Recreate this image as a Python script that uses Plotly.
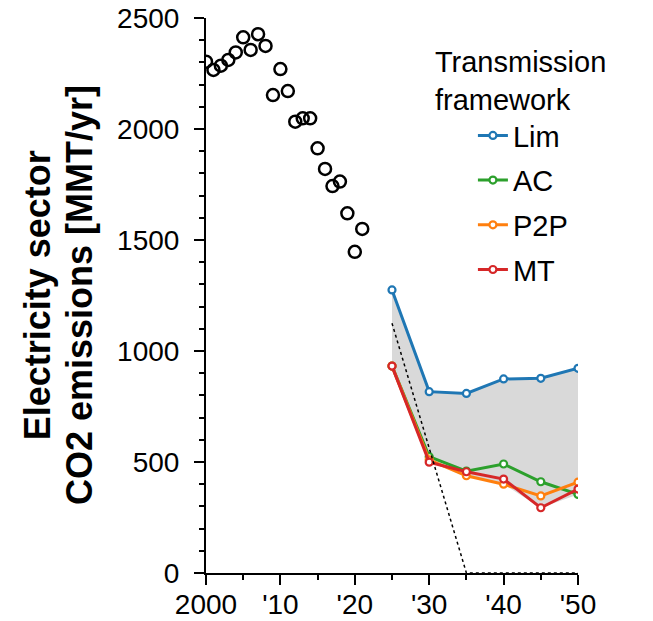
import plotly.graph_objects as go

# Historical emissions
hist_years = list(range(2000, 2022))
hist_values = [2303, 2266, 2285, 2311, 2345, 2413, 2356, 2427, 2374, 2153, 2270,
               2171, 2033, 2048, 2048, 1913, 1820, 1743, 1763, 1620, 1447, 1550]

# Scenario projections
proj_years = [2025, 2030, 2035, 2040, 2045, 2050]
lim_values = [1275, 817, 809, 874, 877, 922]
ac_values = [932, 524, 459, 491, 411, 354]
p2p_values = [932, 510, 438, 400, 347, 409]
mt_values = [932, 499, 456, 423, 294, 378]

# Target pathway (dotted)
target_years = [2025, 2035, 2050]
target_values = [1125, 0, 0]

series = [
    ("Lim", lim_values, "#1f77b4"),
    ("AC", ac_values, "#2ca02c"),
    ("P2P", p2p_values, "#ff7f0e"),
    ("MT", mt_values, "#d62728"),
]

x_tickvals = [2000, 2010, 2020, 2030, 2040, 2050]
x_ticktext = ["2000", "'10", "'20", "'30", "'40", "'50"]
y_tickvals = [0, 500, 1000, 1500, 2000, 2500]

title_lines = ["Electricity sector", "CO2 emissions [MMT/yr]"]

FONT = "Liberation Sans, Arial, sans-serif"

fig = go.Figure()

# grey band between Lim and the lowest of the others
lower = [min(a, b, c) for a, b, c in zip(ac_values, p2p_values, mt_values)]
fig.add_trace(go.Scatter(
    x=proj_years + proj_years[::-1],
    y=lim_values + lower[::-1],
    fill="toself", fillcolor="#d9d9d9", mode="none",
    line=dict(width=0), showlegend=False, hoverinfo="skip"))

fig.add_trace(go.Scatter(
    x=hist_years, y=hist_values, mode="markers",
    marker=dict(symbol="circle-open", size=12, color="black",
                line=dict(width=2.5, color="black")),
    showlegend=False))

for i, (name, vals, col) in enumerate(series):
    fig.add_trace(go.Scatter(
        x=proj_years, y=vals, mode="lines+markers", name=name,
        legendgroup=name,
        line=dict(color=col, width=3),
        marker=dict(symbol="circle", size=7, color="white",
                    line=dict(width=2.2, color=col))))

fig.add_trace(go.Scatter(
    x=target_years, y=target_values, mode="lines",
    line=dict(color="black", width=1.5, dash="dot"),
    showlegend=False, hoverinfo="skip"))

annots = []
for xpos, txt in zip([-0.452, -0.340], title_lines):
    annots.append(dict(
        text=txt, xref="paper", yref="paper", x=xpos, y=0.5,
        xanchor="center", yanchor="middle", textangle=-90,
        showarrow=False,
        font=dict(size=36, family=FONT, weight="bold"),
    ))

fig.update_layout(
    width=653, height=621,
    margin=dict(l=206, r=75, t=18, b=48, autoexpand=False),
    paper_bgcolor="white", plot_bgcolor="white",
    font=dict(family=FONT, color="black"),
    showlegend=True,
    legend=dict(
        x=0.61, y=0.97, xanchor="left", yanchor="top",
        bgcolor="rgba(0,0,0,0)", borderwidth=0,
        font=dict(size=29, family=FONT),
        title=dict(text="Transmission<br>framework", font=dict(size=29, family=FONT), side="top"),
        indentation=40,
        tracegroupgap=4,
    ),
    annotations=annots,
)

fig.update_xaxes(
    range=[2000, 2050], tickvals=x_tickvals, ticktext=x_ticktext, automargin=False,
    showgrid=False, zeroline=False, showline=True, linecolor="black", linewidth=2,
    ticks="outside", ticklen=10, tickwidth=2, tickcolor="black",
    tickfont=dict(size=28, family=FONT), ticklabelstandoff=-5,
    ticklabeloverflow="allow",
    minor=dict(dtick=5, ticks="outside", ticklen=5, tickwidth=2, tickcolor="black"),
)
fig.update_yaxes(
    range=[0, 2500], tickvals=y_tickvals, automargin=False,
    showgrid=False, zeroline=False, showline=True, linecolor="black", linewidth=2,
    ticks="outside", ticklen=10, tickwidth=2, tickcolor="black",
    tickfont=dict(size=28, family=FONT), ticklabelstandoff=9,
    ticklabeloverflow="allow",
    minor=dict(dtick=100, ticks="outside", ticklen=5, tickwidth=2, tickcolor="black"),
)

fig.write_html("out.html", config={"displayModeBar": False},
               post_script="document.body.style.margin='0';")
